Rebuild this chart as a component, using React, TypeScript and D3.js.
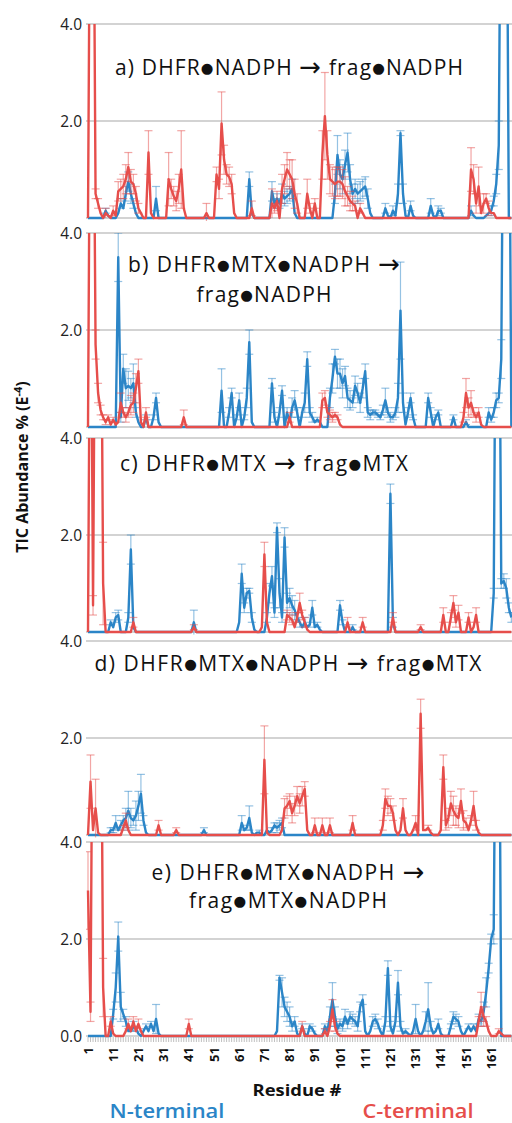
import * as d3 from "d3";
import { useRef, useEffect } from "react";

// [residue, value, error] ; residues not listed are 0
type Pt = [number, number, number];

const nResidues = 169;
const xTickLabels = ["1", "11", "21", "31", "41", "51", "61", "71", "81", "91", "101", "111", "121", "131", "141", "151", "161"];
const yTickValues = [2, 4];

const aBlue: Pt[] = [
  [8, 0.15, 0.05], [9, 0.05, 0], [13, 0.1, 0], [14, 0.3, 0.1], [15, 0.2, 0], [16, 0.5, 0.15], [17, 0.75, 0.2], [18, 0.5, 0.2], [19, 0.3, 0.1], [20, 0.1, 0], [28, 0.4, 0.25],
  [65, 0.8, 0.15], [66, 0.1, 0],
  [74, 0.55, 0.2], [75, 0.3, 0.1], [76, 0.4, 0.1], [77, 0.3, 0.1], [78, 0.5, 0.2], [79, 0.4, 0.15], [80, 0.45, 0.15], [81, 0.5, 0.15], [82, 0.6, 0.2], [83, 0.1, 0],
  [99, 0.5, 0.2], [100, 1.3, 0.4], [101, 0.9, 0.3], [102, 0.8, 0.3], [103, 1.1, 0.3], [104, 1.35, 0.4], [105, 0.8, 0.3], [106, 0.5, 0.2], [107, 0.6, 0.2], [108, 0.5, 0.2], [109, 0.55, 0.2], [110, 0.6, 0.2], [111, 0.65, 0.2], [112, 0.4, 0.2], [113, 0.1, 0],
  [119, 0.2, 0.1], [120, 0.05, 0], [122, 0.15, 0.1], [123, 0.05, 0], [124, 0.5, 0.2], [125, 1.75, 0.05], [126, 0.5, 0.2], [127, 0.05, 0], [129, 0.25, 0.1], [130, 0.05, 0],
  [137, 0.25, 0.15], [138, 0.05, 0], [140, 0.15, 0.1], [141, 0.15, 0.05], [153, 0.15, 0.1], [154, 0.05, 0],
  [159, 0.05, 0], [160, 0.1, 0], [161, 0.15, 0.1], [162, 0.35, 0.1], [163, 0.7, 0.2], [164, 1.5, 0.5], [165, 9, 0], [166, 9, 0], [167, 9, 0],
];
const aRed: Pt[] = [
  [2, 9, 0], [3, 9, 0.6], [4, 0.5, 0.1], [5, 0.3, 0.1], [6, 0.1, 0], [8, 0.1, 0.1], [9, 0.05, 0], [11, 0.15, 0.1], [12, 0.05, 0],
  [13, 0.55, 0.2], [14, 0.6, 0.2], [15, 0.65, 0.25], [16, 0.8, 0.3], [17, 1.05, 0.3], [18, 0.75, 0.25], [19, 0.7, 0.2], [20, 0.5, 0.15], [21, 0.2, 0.1], [22, 0.1, 0],
  [25, 1.35, 0.45], [26, 0.1, 0],
  [33, 0.8, 0.55], [34, 0.6, 0.2], [35, 0.45, 0.2], [36, 0.35, 0.2], [37, 0.6, 0.3], [38, 1.0, 0.8], [39, 0.2, 0],
  [48, 0.1, 0.2], [52, 0.9, 0.15], [53, 0.6, 0.2], [54, 1.95, 0.65], [55, 1.2, 0.3], [56, 0.9, 0.2], [57, 0.85, 0.2], [58, 0.7, 0.2], [59, 0.1, 0],
  [66, 0.2, 0.15], [74, 0.3, 0.3], [75, 0.2, 0.1], [76, 0.35, 0.2], [78, 0.6, 0.3], [79, 0.8, 0.3], [80, 1.0, 0.35], [81, 0.9, 0.3], [82, 0.8, 0.4], [83, 0.5, 0.3], [84, 0.3, 0.2],
  [88, 0.5, 0.3], [89, 0.2, 0.1], [91, 0.3, 0.1], [94, 1.3, 0.5], [95, 2.1, 0.9], [96, 1.3, 0.5], [97, 0.8, 0.3], [98, 0.75, 0.3], [99, 0.7, 0.3], [100, 0.75, 0.3], [101, 0.75, 0.3],
  [102, 0.7, 0.3], [103, 0.55, 0.3], [104, 0.45, 0.2], [105, 0.35, 0.2], [106, 0.3, 0.15], [107, 0.25, 0.1], [109, 0.2, 0.1], [110, 0.1, 0],
  [153, 1.0, 0.45], [154, 0.8, 0.3], [155, 0.3, 0.2], [156, 0.65, 0.4], [157, 0.1, 0], [158, 0.3, 0.2], [159, 0.4, 0.1], [160, 0.2, 0.15], [161, 0.1, 0], [162, 0.1, 0],
];

const bBlue: Pt[] = [
  [13, 3.5, 0.5], [14, 0.2, 0.1], [15, 1.2, 0.3], [16, 0.8, 0.4], [17, 0.85, 0.3], [18, 0.8, 0.2], [19, 0.9, 0.4], [20, 0.3, 0.1], [21, 0.1, 0],
  [24, 0.2, 0.05], [27, 0.2, 0.05], [28, 0.6, 0.1], [29, 0.1, 0],
  [54, 0.75, 0.45], [57, 0.3, 0.1], [58, 0.7, 0.1], [60, 0.2, 0.05], [61, 0.55, 0.15], [63, 0.2, 0.05], [64, 0.6, 0.2], [65, 1.75, 0.25], [66, 0.1, 0],
  [74, 0.9, 0.1], [75, 0.2, 0.1], [77, 0.3, 0.1], [78, 0.75, 0.1], [80, 0.3, 0.1], [81, 0.1, 0], [82, 0.4, 0.2], [83, 0.55, 0.2], [84, 0.3, 0.1],
  [86, 0.3, 0.1], [87, 0.5, 0.2], [88, 1.4, 0.15], [89, 0.3, 0.1], [90, 0.2, 0.1], [91, 0.1, 0], [92, 0.15, 0.05], [93, 0.1, 0],
  [97, 0.6, 0.2], [98, 1.0, 0.3], [99, 1.45, 0.15], [100, 1.1, 0.3], [101, 1.1, 0.3], [102, 0.9, 0.3], [103, 1.05, 0.2], [104, 0.6, 0.2], [105, 0.55, 0.2], [106, 0.5, 0.1],
  [107, 0.85, 0.2], [108, 0.7, 0.2], [109, 0.5, 0.2], [110, 0.8, 0.2], [111, 1.15, 0.15], [112, 0.3, 0.1], [113, 0.25, 0.1], [114, 0.3, 0.05], [115, 0.3, 0.05],
  [116, 0.25, 0.05], [117, 0.2, 0.05], [118, 0.35, 0.1], [119, 0.55, 0.25], [120, 0.3, 0.1], [121, 0.2, 0.1], [122, 0.2, 0.05], [123, 0.3, 0.1], [124, 0.6, 0.3],
  [125, 2.4, 1.0], [126, 0.5, 0.2], [127, 0.05, 0], [128, 0.3, 0.1], [129, 0.6, 0.1], [130, 0.2, 0.05],
  [136, 0.6, 0.1], [137, 0.3, 0.1], [139, 0.2, 0.05], [140, 0.3, 0.05], [146, 0.2, 0.05], [151, 0.1, 0.05],
  [160, 0.3, 0.1], [161, 0.15, 0.05], [162, 0.3, 0.1], [163, 0.55, 0.15], [164, 0.6, 0.1], [165, 1.4, 0.4], [166, 9, 0], [167, 9, 0], [168, 9, 0],
];
const bRed: Pt[] = [
  [2, 9, 0], [3, 9, 0], [4, 1.7, 0.3], [5, 0.7, 0.2], [6, 0.35, 0.1], [7, 0.2, 0.05], [8, 0.1, 0.05], [9, 0.2, 0.05], [10, 0.05, 0], [11, 0.15, 0.05], [12, 0.05, 0],
  [13, 0.1, 0], [14, 0.5, 0.2], [15, 0.3, 0.1], [16, 0.2, 0.1], [17, 0.3, 0.1], [18, 0.45, 0.2], [19, 0.5, 0.2], [20, 0.8, 0.3], [21, 1.15, 0.25], [22, 0.1, 0],
  [24, 0.3, 0.1], [39, 0.2, 0.15], [81, 0.2, 0.1],
  [94, 0.55, 0.15], [95, 0.6, 0.15], [96, 0.3, 0.1], [97, 0.25, 0.1], [98, 0.2, 0.1], [99, 0.25, 0.05], [100, 0.2, 0.05], [101, 0.05, 0],
  [150, 0.2, 0.1], [151, 0.7, 0.3], [152, 0.4, 0.2], [153, 0.5, 0.25], [154, 0.3, 0.1], [155, 0.2, 0.1], [156, 0.3, 0.1], [157, 0.05, 0],
];

const cBlue: Pt[] = [
  [10, 0.2, 0.05], [11, 0.1, 0], [12, 0.3, 0.1], [13, 0.35, 0.1], [17, 0.3, 0.1], [18, 1.7, 0.3], [19, 0.1, 0],
  [43, 0.2, 0.25],
  [61, 0.2, 0], [62, 1.2, 0.2], [63, 0.5, 0.1], [64, 0.8, 0.1], [65, 0.85, 0.05], [66, 0.3, 0.1], [67, 0.05, 0],
  [72, 0.3, 0.1], [73, 0.8, 0.2], [74, 1.15, 0.2], [75, 0.4, 0.1], [76, 2.15, 0.1], [77, 0.8, 0.3], [78, 0.3, 0.1], [79, 1.95, 0.2], [80, 0.6, 0.2],
  [81, 0.7, 0.2], [82, 0.55, 0.2], [83, 0.45, 0.2], [84, 0.3, 0.1], [85, 0.2, 0.1], [86, 0.1, 0], [87, 0.2, 0.1], [88, 0.1, 0], [89, 0.15, 0.05],
  [90, 0.5, 0.15], [91, 0.1, 0], [92, 0.15, 0.05], [93, 0.05, 0],
  [101, 0.55, 0.1], [102, 0.2, 0.05], [106, 0.1, 0.05], [121, 2.85, 0.2], [122, 0.2, 0.1],
  [162, 0.8, 0.1], [163, 9, 0], [164, 9, 0], [165, 1.0, 0.1], [166, 1.05, 0.15], [167, 0.9, 0.2], [168, 0.5, 0.1], [169, 0.3, 0.1],
];
const cRed: Pt[] = [
  [2, 9, 0], [3, 0.55, 0.2], [4, 9, 0], [5, 9, 0], [6, 9, 0], [7, 1.0, 0.85],
  [19, 0.2, 0.1], [43, 0.1, 0.05], [70, 0.1, 0], [71, 1.6, 0.25], [72, 0.2, 0],
  [80, 0.35, 0.1], [81, 0.3, 0.1], [82, 0.25, 0.1], [83, 0.1, 0], [84, 0.3, 0.1], [85, 0.6, 0.2], [86, 0.35, 0.1], [87, 0.2, 0.1], [88, 0.05, 0],
  [104, 0.2, 0.1], [110, 0.2, 0.1], [122, 0.3, 0.1], [133, 0.1, 0.05],
  [142, 0.35, 0.15], [145, 0.3, 0.1], [146, 0.6, 0.15], [147, 0.2, 0.1], [148, 0.4, 0.15], [152, 0.3, 0.1], [154, 0.1, 0], [155, 0.35, 0.15],
];

const dBlue: Pt[] = [
  [10, 0.1, 0.05], [11, 0.1, 0.05], [12, 0.25, 0.15], [13, 0.1, 0], [14, 0.2, 0.1], [15, 0.3, 0.1], [16, 0.35, 0.2], [17, 0.5, 0.4], [18, 0.35, 0.2],
  [19, 0.3, 0.1], [20, 0.4, 0.3], [21, 0.6, 0.3], [22, 0.85, 0.4], [23, 0.3, 0.1], [24, 0.05, 0],
  [47, 0.1, 0.05], [62, 0.25, 0.15], [63, 0.1, 0], [64, 0.15, 0.05], [65, 0.35, 0.25], [66, 0.05, 0],
  [68, 0.05, 0], [69, 0.05, 0.05], [72, 0.1, 0], [73, 0.05, 0], [74, 0.1, 0.05], [75, 0.2, 0.05], [76, 0.15, 0.1], [77, 0.2, 0.1], [78, 0.25, 0.1],
];
const dRed: Pt[] = [
  [2, 1.1, 0.55], [3, 0.1, 0], [4, 0.55, 0.6], [5, 0.05, 0],
  [15, 0.15, 0.05], [16, 0.3, 0.15], [17, 0.1, 0], [29, 0.2, 0.1], [36, 0.1, 0.05],
  [71, 1.55, 0.7], [72, 0.05, 0],
  [78, 0.1, 0], [79, 0.55, 0.2], [80, 0.6, 0.2], [81, 0.7, 0.15], [82, 0.45, 0.2], [83, 0.6, 0.2], [84, 0.8, 0.2], [85, 0.65, 0.2], [86, 0.8, 0.2], [87, 0.95, 0.15], [88, 0.1, 0],
  [91, 0.2, 0.15], [94, 0.2, 0.15], [97, 0.2, 0.15], [106, 0.25, 0.15],
  [118, 0.2, 0.1], [119, 0.75, 0.2], [120, 0.6, 0.2], [121, 0.6, 0.15], [122, 0.45, 0.15], [123, 0.1, 0], [125, 0.1, 0], [126, 0.55, 0.2], [127, 0.1, 0],
  [130, 0.1, 0], [131, 0.25, 0.15], [133, 2.5, 0.3], [134, 0.1, 0], [135, 0.1, 0], [136, 0.15, 0.05], [137, 0.05, 0],
  [141, 0.1, 0], [142, 1.4, 0.25], [143, 0.2, 0.1], [144, 0.35, 0.2], [145, 0.65, 0.25], [146, 0.5, 0.3], [147, 0.4, 0.2], [148, 0.35, 0.2], [149, 0.7, 0.25],
  [150, 0.3, 0.2], [151, 0.25, 0.1], [152, 0.1, 0], [153, 0.3, 0.1], [154, 0.6, 0.3], [155, 0.2, 0.1], [156, 0.05, 0],
];

const eBlue: Pt[] = [
  [11, 0.45, 0.1], [12, 1.0, 0.3], [13, 2.05, 0.3], [14, 0.6, 0.3], [15, 0.45, 0.1], [16, 0.3, 0.1], [17, 0.1, 0], [18, 0.1, 0], [19, 0.2, 0.1], [20, 0.15, 0.05], [21, 0.05, 0],
  [23, 0.1, 0], [24, 0.2, 0.05], [25, 0.1, 0], [26, 0.25, 0.05], [27, 0.1, 0], [28, 0.35, 0.3], [29, 0.05, 0],
  [76, 0.1, 0], [77, 1.2, 0.05], [78, 0.9, 0.3], [79, 0.6, 0.2], [80, 0.5, 0.2], [81, 0.4, 0.2], [82, 0.2, 0.1], [83, 0.3, 0.1], [84, 0.05, 0],
  [86, 0.2, 0.05], [87, 0.05, 0], [89, 0.2, 0.05], [90, 0.15, 0.05], [91, 0.05, 0], [95, 0.2, 0.05], [96, 0.1, 0], [97, 0.4, 0.2], [98, 0.75, 0.35], [99, 0.4, 0.2],
  [100, 0.15, 0.1], [101, 0.25, 0.1], [102, 0.2, 0.1], [103, 0.4, 0.15], [104, 0.25, 0.1], [105, 0.4, 0.1], [106, 0.35, 0.1], [107, 0.3, 0.1], [108, 0.2, 0.1],
  [109, 0.6, 0.1], [110, 0.75, 0.1], [111, 0.1, 0], [113, 0.1, 0], [114, 0.3, 0.1], [115, 0.35, 0.1], [116, 0.25, 0.1], [117, 0.1, 0], [119, 0.3, 0.1],
  [120, 1.4, 0.15], [121, 0.2, 0.1], [122, 0.05, 0], [123, 0.3, 0.1], [124, 1.1, 0.25], [125, 0.2, 0.1], [126, 0.05, 0], [127, 0.1, 0.05], [128, 0.05, 0],
  [130, 0.1, 0], [131, 0.35, 0.3], [132, 0.1, 0], [134, 0.1, 0], [135, 0.3, 0.2], [136, 0.55, 0.55], [137, 0.2, 0.1], [138, 0.05, 0], [139, 0.1, 0],
  [140, 0.25, 0.1], [141, 0.05, 0], [145, 0.2, 0.05], [146, 0.4, 0.1], [147, 0.35, 0.1], [148, 0.3, 0.1], [149, 0.1, 0], [151, 0.1, 0], [152, 0.2, 0.05],
  [153, 0.1, 0], [154, 0.2, 0.05], [155, 0.1, 0], [156, 0.35, 0.1], [157, 0.3, 0.1], [158, 0.5, 0.2], [159, 0.9, 0.3], [160, 1.4, 0.1], [161, 2.0, 0.1],
  [162, 2.2, 0.3], [163, 9, 0], [164, 9, 0],
];
const eRed: Pt[] = [
  [1, 3.0, 0.8], [2, 0.5, 0.2], [3, 9, 0], [4, 9, 0], [5, 9, 0], [6, 9, 0], [7, 1.0, 0.6],
  [10, 0.3, 0.1], [11, 0.05, 0], [16, 0.1, 0], [17, 0.25, 0.1], [18, 0.1, 0], [19, 0.3, 0.1], [20, 0.1, 0], [21, 0.25, 0.1], [22, 0.1, 0],
  [41, 0.25, 0.1], [86, 0.2, 0.1], [95, 0.1, 0.05], [97, 0.2, 0.1], [98, 0.55, 0.2], [99, 0.2, 0.1], [100, 0.05, 0],
  [156, 0.3, 0.1], [157, 0.6, 0.3], [158, 0.4, 0.2], [159, 0.3, 0.1], [160, 0.1, 0], [164, 0.1, 0.05], [165, 0.05, 0],
];

const panelBlue = [aBlue, bBlue, cBlue, dBlue, eBlue];
const panelRed = [aRed, bRed, cRed, dRed, eRed];
const panelTitles = [
  ["a) DHFR\u25CFNADPH \u2192 frag\u25CFNADPH"],
  ["b) DHFR\u25CFMTX\u25CFNADPH \u2192", "frag\u25CFNADPH"],
  ["c) DHFR\u25CFMTX \u2192 frag\u25CFMTX"],
  ["d) DHFR\u25CFMTX\u25CFNADPH \u2192 frag\u25CFMTX"],
  ["e) DHFR\u25CFMTX\u25CFNADPH \u2192", "frag\u25CFMTX\u25CFNADPH"],
];

// layout
const W = 512;
const H = 1123;
const panelTops = [24, 233, 438, 641, 842];
const panelH = 194;
const titleLayout = [
  { cx: 289, ys: [51], ws: [348] },
  { cx: 264, ys: [38.5, 68.5], ws: [272, 135] },
  { cx: 264, ys: [32.5], ws: [288] },
  { cx: 288, ys: [29.5], ws: [387] },
  { cx: 288, ys: [38, 65.5], ws: [273, 198] },
];
const BLUE = "#2b85c7";
const RED = "#e64e4b";
const FONT = "'Open Sans', 'Noto Sans', 'DejaVu Sans', sans-serif";

function dense(pts: Pt[]) {
  const byRes = new Map(pts.map((p) => [p[0], p]));
  return d3.range(1, nResidues + 1).map((r) => {
    const p = byRes.get(r);
    return { r, v: p ? p[1] : 0, e: p ? p[2] : 0 };
  });
}

// split a title so the bullet and arrow glyphs can be sized on their own
function titleParts(t: string) {
  return t.split(/(\u25CF|\u2192)/).filter((s) => s.length > 0);
}

const App = () => {
  const ref = useRef<SVGSVGElement>(null);

  useEffect(() => {
    const svg = d3.select(ref.current);
    svg.selectAll("*").remove();

    const x = d3.scaleLinear().domain([1, 170]).range([88, 88 + 169 * 2.52]);
    const left = 86;

    panelTops.forEach((top, i) => {
      const y = d3.scaleLinear().domain([0, 4]).range([top + panelH, top]);
      const g = svg.append("g");
      const clipId = "clip" + i;
      svg.append("clipPath").attr("id", clipId)
        .append("rect").attr("x", left).attr("y", top).attr("width", W - left).attr("height", panelH + 3);

      // gridlines
      g.selectAll("line.grid").data([0, ...yTickValues]).enter().append("line")
        .attr("x1", left).attr("x2", W)
        .attr("y1", (d) => y(d)).attr("y2", (d) => y(d))
        .attr("stroke", "#c4c4c4").attr("stroke-width", 1.3);

      // y labels
      const labs = i === 4 ? [0, ...yTickValues] : yTickValues;
      g.selectAll("text.ylab").data(labs).enter().append("text")
        .attr("x", 82).attr("y", (d) => y(d)).attr("dy", "0.36em")
        .attr("text-anchor", "end").attr("font-family", FONT).attr("font-size", 15.5)
        .attr("fill", "#222").text((d) => d.toFixed(1));

      // titles
      const tl = titleLayout[i];
      panelTitles[i].forEach((t, k) => {
        const txt = g.append("text").attr("x", tl.cx).attr("y", top + tl.ys[k])
          .attr("text-anchor", "middle").attr("font-family", FONT).attr("font-size", 21)
          .attr("fill", "#111").attr("textLength", tl.ws[k]).attr("lengthAdjust", "spacing");
        let shifted = 0;
        titleParts(t).forEach((s) => {
          const sp = txt.append("tspan").text(s);
          if (s === "\u25CF") {
            sp.attr("font-family", "'DejaVu Sans'").attr("font-size", 14.5).attr("dy", -1.8 - shifted);
            shifted = -1.8;
          } else if (s === "\u2192") {
            sp.attr("font-family", "'DejaVu Sans'").attr("font-size", 26).attr("dy", 1 - shifted);
            shifted = 1;
          } else if (shifted !== 0) {
            sp.attr("dy", -shifted);
            shifted = 0;
          }
        });
      });

      const plot = g.append("g").attr("clip-path", `url(#${clipId})`);
      [[panelBlue[i], BLUE], [panelRed[i], RED]].forEach(([pts, col]) => {
        const data = dense(pts as Pt[]);
        const errs = data.filter((d) => d.e > 0);
        const eg = plot.append("g").attr("stroke", col as string).attr("stroke-opacity", 0.5).attr("stroke-width", 1.2);
        eg.selectAll("line.v").data(errs).enter().append("line")
          .attr("x1", (d) => x(d.r)).attr("x2", (d) => x(d.r))
          .attr("y1", (d) => y(d.v - d.e)).attr("y2", (d) => y(d.v + d.e));
        eg.selectAll("line.top").data(errs).enter().append("line")
          .attr("x1", (d) => x(d.r) - 4).attr("x2", (d) => x(d.r) + 4)
          .attr("y1", (d) => y(d.v + d.e)).attr("y2", (d) => y(d.v + d.e));
        eg.selectAll("line.bot").data(errs.filter((d) => d.v - d.e > 0)).enter().append("line")
          .attr("x1", (d) => x(d.r) - 4).attr("x2", (d) => x(d.r) + 4)
          .attr("y1", (d) => y(d.v - d.e)).attr("y2", (d) => y(d.v - d.e));

        const line = d3.line<{ r: number; v: number }>().x((d) => x(d.r)).y((d) => y(d.v));
        plot.append("path").datum(data).attr("d", line)
          .attr("fill", "none").attr("stroke", col as string).attr("stroke-width", 2.4)
          .attr("stroke-linejoin", "round");
      });
    });

    // bottom axis minor ticks and labels
    const base = panelTops[4] + panelH;
    svg.append("g").selectAll("line").data(d3.range(1, nResidues + 1)).enter().append("line")
      .attr("x1", (d) => x(d)).attr("x2", (d) => x(d))
      .attr("y1", base + 1).attr("y2", base + 6)
      .attr("stroke", "#b0b0b0").attr("stroke-width", 0.8);

    svg.append("g").selectAll("text").data(xTickLabels).enter().append("text")
      .attr("transform", (d) => `translate(${x(+d)},${base + 11}) rotate(-90)`)
      .attr("text-anchor", "end").attr("dy", "0.36em")
      .attr("font-family", FONT).attr("font-size", 13).attr("font-weight", "bold")
      .attr("fill", "#111").text((d) => d);

    svg.append("text").attr("x", 297).attr("y", 1096).attr("text-anchor", "middle")
      .attr("font-family", FONT).attr("font-size", 16).attr("font-weight", "bold")
      .attr("fill", "#111").attr("textLength", 89).attr("lengthAdjust", "spacingAndGlyphs")
      .text("Residue #");

    svg.append("text").attr("x", 167).attr("y", 1118).attr("text-anchor", "middle")
      .attr("font-family", FONT).attr("font-size", 19).attr("font-weight", 600)
      .attr("fill", BLUE).attr("textLength", 115).attr("lengthAdjust", "spacingAndGlyphs")
      .text("N-terminal");
    svg.append("text").attr("x", 418).attr("y", 1118).attr("text-anchor", "middle")
      .attr("font-family", FONT).attr("font-size", 19).attr("font-weight", 600)
      .attr("fill", RED).attr("textLength", 111).attr("lengthAdjust", "spacingAndGlyphs")
      .text("C-terminal");

    // y title
    const yt = svg.append("text").attr("transform", "translate(28,467) rotate(-90)")
      .attr("text-anchor", "middle").attr("font-family", FONT).attr("font-size", 16)
      .attr("font-weight", "bold").attr("fill", "#111");
    yt.append("tspan").text("TIC Abundance % (E");
    yt.append("tspan").attr("font-size", 11).attr("dy", -6).text("-4");
    yt.append("tspan").attr("dy", 6).text(")");
  }, []);

  return (
    <svg ref={ref} width={W} height={H}
      style={{ position: "absolute", left: 0, top: 0, display: "block", background: "#fff" }} />
  );
};

export default App;
